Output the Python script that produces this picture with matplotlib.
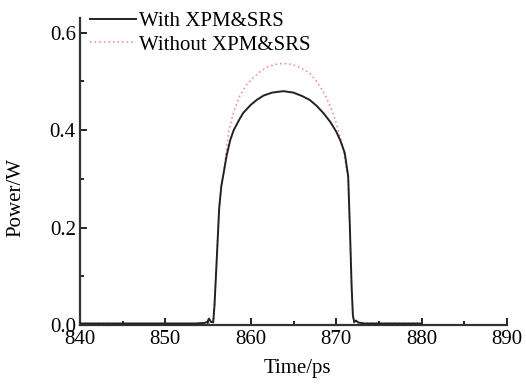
import matplotlib.pyplot as plt
from matplotlib.ticker import MultipleLocator

t_with = [840, 853.5, 854.5, 854.9, 855.1, 855.35, 855.6, 855.75, 856.0, 856.3,
          856.55, 856.85, 857.2, 857.6, 858.0, 858.7, 859.1, 860.0, 860.7, 861.5,
          862.5, 863.8, 865.0, 866.0, 866.9, 867.7, 868.5, 869.3, 870.0, 870.5,
          871.0, 871.4, 871.6, 871.8, 871.95, 872.1, 872.3, 872.6, 873.3, 873.8, 880]
p_with = [0.003, 0.003, 0.004, 0.006, 0.013, 0.006, 0.006, 0.04, 0.13, 0.24,
          0.285, 0.315, 0.35, 0.38, 0.40, 0.423, 0.435, 0.452, 0.462, 0.471,
          0.477, 0.480, 0.477, 0.470, 0.462, 0.450, 0.435, 0.417, 0.397, 0.378,
          0.353, 0.305, 0.20, 0.08, 0.02, 0.006, 0.009, 0.005, 0.003, 0.003, 0.003]

t_without = [840, 855.6, 855.75, 856.0, 856.3, 856.55, 856.85, 857.0, 857.4, 858.0,
             858.7, 859.5, 860.3, 861.1, 862.0, 862.9, 863.8, 864.8, 865.8, 866.9,
             867.7, 868.5, 869.1, 869.7, 870.3, 870.8, 871.1, 871.4, 871.6, 871.8,
             871.95, 872.1, 880]
p_without = [0.003, 0.003, 0.04, 0.13, 0.24, 0.285, 0.315, 0.34, 0.397, 0.438,
             0.47, 0.493, 0.508, 0.52, 0.53, 0.535, 0.537, 0.535, 0.528, 0.517,
             0.50, 0.479, 0.457, 0.431, 0.397, 0.36, 0.33, 0.30, 0.20, 0.08,
             0.02, 0.004, 0.003]

plt.rcParams['font.family'] = 'Liberation Serif'
plt.rcParams['font.size'] = 15

fig, ax = plt.subplots(figsize=(5.26, 3.85), dpi=100)
fig.subplots_adjust(left=0.152, right=0.964, bottom=0.156, top=0.953)

ax.plot(t_without, p_without, color='#ef8090', lw=1.1, ls=(0, (1, 2)),
        label='Without XPM&SRS', zorder=2)
ax.plot(t_with, p_with, color='#222222', lw=1.4, label='With XPM&SRS', zorder=3)

ax.set_xlim(840, 890)
ax.set_ylim(0, 0.63)
ax.xaxis.set_major_locator(MultipleLocator(10))
ax.xaxis.set_minor_locator(MultipleLocator(5))
ax.yaxis.set_major_locator(MultipleLocator(0.2))
ax.yaxis.set_minor_locator(MultipleLocator(0.1))
ax.yaxis.set_major_formatter(plt.FormatStrFormatter('%.1f'))
ax.tick_params(which='both', direction='in', width=1.2, labelsize=15)
ax.tick_params(axis='x', pad=4)
ax.tick_params(axis='y', pad=3)
ax.tick_params(which='major', length=5)
ax.tick_params(which='minor', length=3)
for s in ['top', 'right']:
    ax.spines[s].set_visible(False)
for s in ['left', 'bottom']:
    ax.spines[s].set_linewidth(1.6)
    ax.spines[s].set_color('#333333')

ax.set_xlabel('Time/ps', fontsize=15)
ax.set_ylabel('Power/W', fontsize=15)
ax.xaxis.set_label_coords(0.508, -0.112)
ax.yaxis.set_label_coords(-0.127, 0.414)

h, l = ax.get_legend_handles_labels()
ax.legend(h[::-1], l[::-1], loc='upper left', bbox_to_anchor=(0.023, 1.022),
          frameon=False, borderpad=0, borderaxespad=0, handlelength=2.2,
          handletextpad=0.15, labelspacing=0.2, fontsize=15)

fig.savefig('out.png', dpi=100)
